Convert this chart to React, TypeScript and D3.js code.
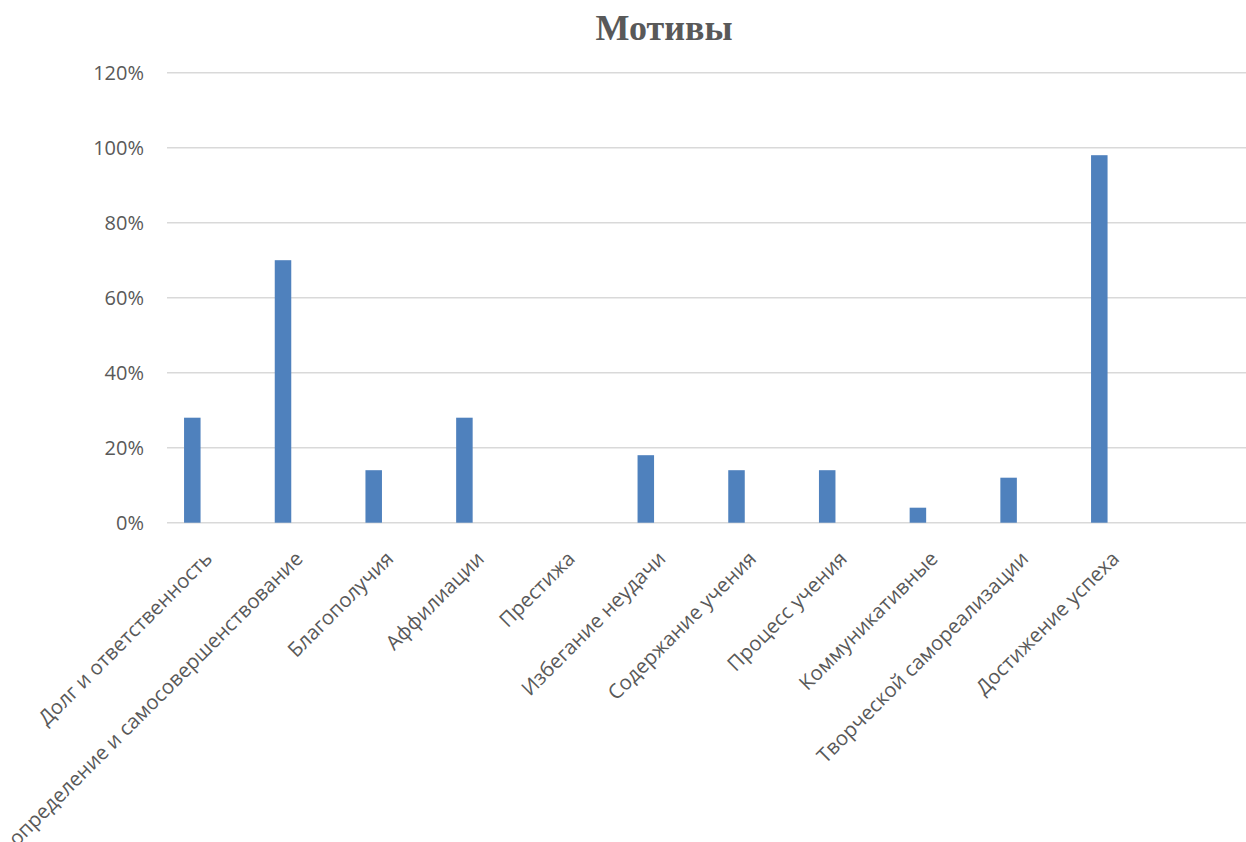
import * as React from "react";
import * as d3 from "d3";

const categories = [
  "Долг и ответственность",
  "Самоопределение и самосовершенствование",
  "Благополучия",
  "Аффилиации",
  "Престижа",
  "Избегание неудачи",
  "Содержание учения",
  "Процесс учения",
  "Коммуникативные",
  "Творческой самореализации",
  "Достижение успеха",
];
const values = [0.28, 0.7, 0.14, 0.28, 0, 0.18, 0.14, 0.14, 0.04, 0.12, 0.98];
const yTicks = [0, 0.2, 0.4, 0.6, 0.8, 1.0, 1.2];

const width = 1246;
const height = 842;
const left = 167;
const step = 90.7;
const top = 72.7;
const bottom = 522.7;

export default function App() {
  const xScale = React.useMemo(
    () =>
      d3
        .scaleBand()
        .domain(categories)
        .range([left, left + step * categories.length])
        .padding(0),
    []
  );
  const yScale = React.useMemo(
    () => d3.scaleLinear().domain([0, 1.2]).range([bottom, top]),
    []
  );
  const fmt = d3.format(".0%");
  const bw = xScale.bandwidth();

  return (
    <svg
      width={width}
      height={height}
      style={{ position: "absolute", left: 0, top: 0, background: "#fff" }}
    >
      <text
        x={664}
        y={40}
        textAnchor="middle"
        fontFamily="'Liberation Serif', 'Times New Roman', serif"
        fontWeight="bold"
        fontSize={36}
        fill="#595959"
      >
        Мотивы
      </text>
      <g>
        {yTicks.map((t) => (
          <g key={t}>
            <line
              x1={left}
              x2={width}
              y1={yScale(t)}
              y2={yScale(t)}
              stroke="#d9d9d9"
              strokeWidth={1.5}
            />
            <text
              x={144}
              y={yScale(t)}
              dy="0.36em"
              textAnchor="end"
              fontFamily="'Open Sans', sans-serif"
              fontSize={20}
              fill="#595959"
            >
              {fmt(t)}
            </text>
          </g>
        ))}
      </g>
      <g>
        {categories.map((c, i) => (
          <rect
            key={c}
            x={(xScale(c) ?? 0) + bw * 0.188}
            y={yScale(values[i])}
            width={bw * 0.182}
            height={yScale(0) - yScale(values[i])}
            fill="#4f81bd"
          />
        ))}
      </g>
      <g>
        {categories.map((c) => {
          const cx = (xScale(c) ?? 0) + bw / 2;
          return (
            <text
              key={c}
              transform={`translate(${cx + 1},560) rotate(-45)`}
              textAnchor="end"
              fontFamily="'Open Sans', sans-serif"
              fontSize={20.3}
              fill="#595959"
            >
              {c}
            </text>
          );
        })}
      </g>
    </svg>
  );
}
